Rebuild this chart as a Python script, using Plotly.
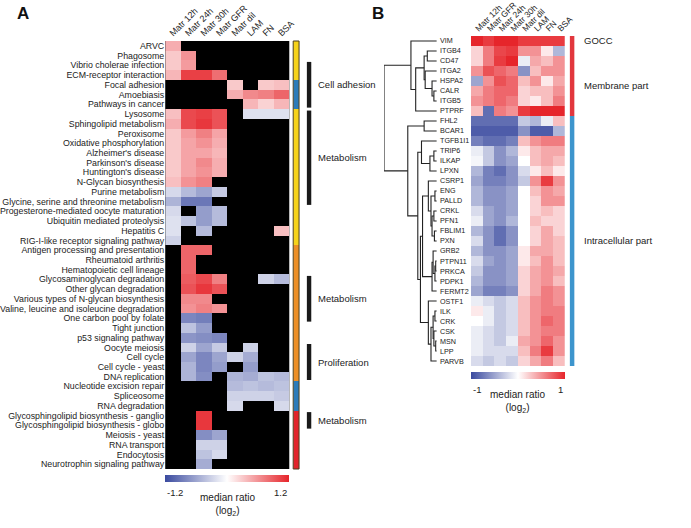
import plotly.graph_objects as go

W, H = 691, 528
N = None

# ---------------- Panel A data ----------------
a_cols = ["Matr 12h", "Matr 24h", "Matr 30h", "Matr GFR", "Matr dil", "LAM", "FN", "BSA"]
a_rows = ["ARVC", "Phagosome", "Vibrio cholerae infection", "ECM-receptor interaction",
          "Focal adhesion", "Amoebiasis", "Pathways in cancer", "Lysosome",
          "Sphingolipid metabolism", "Peroxisome", "Oxidative phosphorylation",
          "Alzheimer's disease", "Parkinson's disease", "Huntington's disease",
          "N-Glycan biosynthesis", "Purine metabolism",
          "Glycine, serine and threonine metabolism",
          "Progesterone-mediated oocyte maturation", "Ubiquitin mediated proteolysis",
          "Hepatitis C", "RIG-I-like receptor signaling pathway",
          "Antigen processing and presentation", "Rheumatoid arthritis",
          "Hematopoietic cell lineage", "Glycosaminoglycan degradation",
          "Other glycan degradation", "Various types of N-glycan biosynthesis",
          "Valine, leucine and isoleucine degradation", "One carbon pool by folate",
          "Tight junction", "p53 signaling pathway", "Oocyte meiosis", "Cell cycle",
          "Cell cycle - yeast", "DNA replication", "Nucleotide excision repair",
          "Spliceosome", "RNA degradation", "Glycosphingolipid biosynthesis - ganglio",
          "Glycosphingolipid biosynthesis - globo", "Meiosis - yeast", "RNA transport",
          "Endocytosis", "Neurotrophin signaling pathway"]
a_vals = [
    [0.45, N, N, N, N, N, N, N],
    [0.3, 0.6, N, N, N, N, N, N],
    [0.3, 0.55, N, N, N, N, N, N],
    [0.4, 1.05, 1.05, 0.8, N, N, N, N],
    [N, N, N, N, 0.3, N, 0.3, 0.35],
    [N, N, N, N, 0.45, 0.65, 0.7, 0.85],
    [N, N, N, N, N, 0.4, 0.25, 0.4],
    [0.35, 1.0, 1.05, 0.95, N, -0.2, -0.2, -0.2],
    [0.45, 1.0, 1.1, 0.95, N, N, N, N],
    [0.3, 0.55, 0.7, 0.5, N, N, N, N],
    [0.3, 0.5, 0.6, 0.45, N, N, N, N],
    [0.3, 0.5, 0.5, 0.4, N, N, N, N],
    [0.3, 0.5, 0.65, 0.45, N, N, N, N],
    [0.3, 0.5, 0.6, 0.45, N, N, N, N],
    [0.35, 0.6, 0.7, N, N, N, N, N],
    [-0.25, -0.45, -0.6, -0.35, N, N, N, N],
    [-0.5, -0.9, -0.9, N, N, N, N, N],
    [-0.25, N, -0.65, -0.45, N, N, N, N],
    [-0.2, -0.4, -0.65, -0.45, N, N, N, N],
    [-0.2, N, -0.45, N, N, N, N, 0.35],
    [-0.3, N, N, N, N, N, N, N],
    [N, 0.85, 0.85, N, N, N, N, N],
    [N, 0.85, N, N, N, N, N, N],
    [N, 0.85, N, N, N, N, N, N],
    [N, 0.9, 1.0, 0.7, N, N, -0.3, -0.45],
    [N, 0.95, 1.1, 0.95, N, N, N, N],
    [N, 0.65, 0.65, N, N, N, N, N],
    [N, 0.6, 0.7, 0.6, N, N, N, N],
    [N, -0.8, -0.85, N, N, N, N, N],
    [N, -0.4, -0.65, N, N, N, N, N],
    [N, -0.7, -0.75, -0.8, N, N, N, N],
    [N, -0.3, -0.6, -0.35, N, -0.3, N, N],
    [N, -0.6, -0.8, -0.6, -0.3, -0.55, N, N],
    [N, -0.5, -0.8, -0.65, N, -0.65, N, N],
    [N, -0.5, -0.75, N, -0.5, -0.55, -0.4, -0.45],
    [N, N, N, N, -0.45, -0.4, -0.45, -0.4],
    [N, N, N, N, -0.3, -0.3, -0.3, -0.35],
    [N, N, N, N, -0.25, N, N, -0.25],
    [N, N, 1.1, N, N, N, N, N],
    [N, N, 1.1, N, N, N, N, N],
    [N, N, -0.75, -0.6, N, N, N, N],
    [N, N, -0.3, -0.3, N, N, N, N],
    [N, N, -0.4, -0.25, N, N, N, N],
    [N, N, -0.55, N, N, N, N, N],
]
a_scale_ticks = ["-1.2", "1.2"]
# side colour groups (0 yellow, 1 blue, 2 orange, 3 red)
a_side = [0]*4 + [1]*3 + [0]*14 + [2]*14 + [1]*3 + [3]*6
a_side_colors = ["#f6d31a", "#2b7bba", "#ec8f26", "#e1252b"]
# annotated groups: label, first row, last row
a_groups = [
    ("Cell adhesion", "Vibrio cholerae infection", "Pathways in cancer"),
    ("Metabolism", "Lysosome", "Glycine, serine and threonine metabolism"),
    ("Metabolism", "Glycosaminoglycan degradation", "One carbon pool by folate"),
    ("Proliferation", "Oocyte meiosis", "DNA replication"),
    ("Metabolism", "Glycosphingolipid biosynthesis - ganglio", "Glycosphingolipid biosynthesis - globo"),
]

# ---------------- Panel B data ----------------
b_cols = ["Matr 12h", "Matr GFR", "Matr 24h", "Matr 30h", "Matr dil", "LAM", "FN", "BSA"]
b_genes = ["VIM", "ITGB4", "CD47", "ITGA2", "HSPA2", "CALR", "ITGB5", "PTPRF",
           "FHL2", "BCAR1", "TGFB1I1", "TRIP6", "ILKAP", "LPXN", "CSRP1", "ENG",
           "PALLD", "CRKL", "PFN1", "FBLIM1", "PXN", "GRB2", "PTPN11", "PRKCA",
           "PDPK1", "FERMT2", "OSTF1", "ILK", "CRK", "CSK", "MSN", "LPP", "PARVB"]
b_vals = [
    [1.0, 0.9, 1.0, 1.0, 0.9, 0.9, 0.9, 0.9],
    [0.2, 0.6, 0.85, 0.9, 0.5, 0.5, 0.1, -0.4],
    [0.2, 0.6, 0.9, 1.0, -0.1, 0.4, 0.3, 0.5],
    [0.5, 0.8, 0.7, 0.6, -0.6, 0.3, 0.5, 0.5],
    [-0.5, 0.5, 0.8, 0.7, 0.3, 0.5, 0.1, 0.4],
    [0.4, 0.6, 0.7, 0.7, 0.2, 0.3, 0.3, 0.5],
    [0.5, 0.6, 0.7, 0.6, 0.2, 0.1, 0.3, 0.6],
    [0.3, -0.8, 0.6, 0.5, 0.9, 1.0, 1.0, 1.0],
    [-0.8, -0.8, -0.8, -0.8, -0.3, -0.4, -0.1, 0.3],
    [-0.9, -0.9, -0.9, -0.9, -0.6, -0.9, -0.9, -0.4],
    [-0.7, -0.8, -0.8, -0.7, 0.3, 0.5, 0.6, 0.6],
    [-0.1, -0.3, -0.6, -0.4, 0.1, 0.3, 0.4, 0.4],
    [-0.05, -0.3, -0.6, -0.5, 0.0, 0.3, 0.4, 0.3],
    [-0.4, -0.7, -0.8, -0.6, -0.2, 0.1, 0.3, 0.1],
    [-0.5, -0.7, -0.7, -0.6, -0.3, 0.5, 0.9, 0.5],
    [-0.4, -0.6, -0.6, -0.5, 0.0, 0.3, 0.5, 0.4],
    [-0.4, -0.6, -0.6, -0.5, 0.0, 0.2, 0.5, 0.5],
    [-0.2, -0.5, -0.6, -0.5, 0.0, 0.2, 0.3, 0.2],
    [-0.1, -0.5, -0.6, -0.4, 0.0, 0.3, 0.2, 0.2],
    [-0.4, -0.6, -0.8, -0.6, 0.0, 0.2, 0.4, 0.2],
    [-0.2, -0.6, -0.8, -0.6, 0.0, 0.2, 0.4, 0.3],
    [-0.4, -0.6, -0.6, -0.5, 0.1, 0.4, 0.4, 0.3],
    [-0.2, -0.5, -0.6, -0.5, 0.1, 0.3, 0.5, 0.3],
    [-0.3, -0.6, -0.6, -0.5, 0.2, 0.4, 0.5, 0.4],
    [-0.4, -0.6, -0.6, -0.5, 0.2, 0.4, 0.5, 0.3],
    [-0.5, -0.7, -0.7, -0.6, 0.2, 0.4, 0.6, 0.5],
    [-0.1, -0.2, -0.3, -0.2, 0.3, 0.5, 0.6, 0.5],
    [0.1, -0.1, -0.3, -0.2, 0.3, 0.5, 0.6, 0.6],
    [0.0, -0.1, -0.3, -0.2, 0.3, 0.5, 0.7, 0.6],
    [-0.1, -0.2, -0.3, -0.2, 0.3, 0.5, 0.6, 0.6],
    [-0.1, -0.2, -0.3, -0.1, 0.4, 0.5, 0.7, 0.5],
    [-0.1, -0.2, -0.2, -0.2, 0.3, 0.6, 0.9, 0.5],
    [-0.2, -0.3, -0.2, -0.3, 0.2, 0.4, 0.6, 0.3],
]
b_scale_ticks = ["-1", "1"]
b_gocc = [0]*8 + [1]*25
b_gocc_names = ["Membrane part", "Intracellular part"]
b_gocc_colors = ["#e2373d", "#3d95cd"]
# dendrogram linkage: (node, left, right, height)
b_linkage = [
    ("D0", "CALR", "ITGB5", 0.055),
    ("D1", "HSPA2", "D0", 0.09),
    ("E", "ITGA2", "D1", 0.22),
    ("A", "ITGB4", "CD47", 0.18),
    ("F", "A", "E", 0.24),
    ("G", "F", "PTPRF", 0.40),
    ("H", "VIM", "G", 0.49),
    ("I", "FHL2", "BCAR1", 0.24),
    ("L", "TRIP6", "ILKAP", 0.055),
    ("M", "L", "LPXN", 0.13),
    ("Nn", "TGFB1I1", "M", 0.29),
    ("S2", "ENG", "PALLD", 0.035),
    ("S3a", "CRKL", "PFN1", 0.055),
    ("S3b", "FBLIM1", "PXN", 0.045),
    ("S3", "S3a", "S3b", 0.09),
    ("S1", "S2", "S3", 0.11),
    ("S", "CSRP1", "S1", 0.16),
    ("T3", "PTPN11", "PRKCA", 0.02),
    ("T2", "T3", "PDPK1", 0.035),
    ("T1", "GRB2", "T2", 0.07),
    ("T", "T1", "FERMT2", 0.09),
    ("Q", "S", "T", 0.27),
    ("R3", "ILK", "CRK", 0.035),
    ("R4", "MSN", "LPP", 0.02),
    ("R5", "CSK", "R4", 0.055),
    ("R2", "R3", "R5", 0.07),
    ("R1", "R2", "PARVB", 0.11),
    ("R", "OSTF1", "R1", 0.16),
    ("P", "Q", "R", 0.31),
    ("J", "Nn", "P", 0.36),
    ("K", "I", "J", 0.55),
    ("root", "H", "K", 1.0),
]

# ---------------- helpers ----------------
def px(x):
    return x / W

def py(y):
    return 1 - y / H

FONT = "Liberation Sans, Arial, sans-serif"
TXT = "#222222"
cscale = [[0, "#3a4a9f"], [0.5, "#ffffff"], [1, "#e6252b"]]

fig = go.Figure()

a_idx = list(range(len(a_rows)))
b_idx = list(range(len(b_genes)))

fig.add_trace(go.Heatmap(z=a_vals, x=a_cols, y=a_idx, coloraxis="coloraxis",
                         xaxis="x", yaxis="y", hoverongaps=False))
n_side = len(a_side_colors)
side_scale = []
for i, c in enumerate(a_side_colors):
    side_scale += [[i / n_side, c], [(i + 1) / n_side, c]]
fig.add_trace(go.Heatmap(z=[[v] for v in a_side], x=["g"], y=a_idx, colorscale=side_scale,
                         zmin=-0.5, zmax=n_side - 0.5, showscale=False,
                         xaxis="x4", yaxis="y"))

fig.add_trace(go.Heatmap(z=b_vals, x=b_cols, y=b_idx, coloraxis="coloraxis2",
                         xaxis="x2", yaxis="y2"))
g_scale = [[0, b_gocc_colors[0]], [0.5, b_gocc_colors[0]], [0.5, b_gocc_colors[1]], [1, b_gocc_colors[1]]]
fig.add_trace(go.Heatmap(z=[[v] for v in b_gocc], x=["g"], y=b_idx, colorscale=g_scale,
                         zmin=-0.5, zmax=1.5, showscale=False, xaxis="x6", yaxis="y2"))

pos = {g: (i, 0.0) for i, g in enumerate(b_genes)}
dx, dy = [], []
for name, l, r, h in b_linkage:
    yl, hl = pos[l]
    yr, hr = pos[r]
    dx += [hl, h, h, hr, None]
    dy += [yl, yl, yr, yr, None]
    pos[name] = ((yl + yr) / 2, h)
fig.add_trace(go.Scatter(x=dx, y=dy, mode="lines", line=dict(color="#222", width=1.1),
                         xaxis="x3", yaxis="y2", hoverinfo="skip", showlegend=False))

# ---------------- layout ----------------
A_X0, A_X1, A_Y0, A_Y1 = 163, 290, 41, 469
B_X0, B_X1, B_Y0, B_Y1 = 476, 572, 36, 366
A_CB, B_CB = 475, 372

axis_common = dict(showgrid=False, zeroline=False, showline=False, ticks="")
fig.update_layout(
    width=W, height=H, margin=dict(l=0, r=0, t=0, b=0),
    paper_bgcolor="white", plot_bgcolor="white",
    font=dict(family=FONT, color=TXT),
    showlegend=False,
    xaxis=dict(domain=[px(A_X0), px(A_X1)], side="top", tickangle=-45, ticklabelshift=-3,
               tickfont=dict(size=9, color=TXT), anchor="y", **axis_common),
    yaxis=dict(domain=[py(A_Y1), py(A_Y0)], autorange="reversed", tickmode="array",
               tickvals=a_idx, ticktext=a_rows, tickfont=dict(size=8.8, color=TXT),
               anchor="x", **axis_common),
    xaxis4=dict(domain=[px(294), px(300)], anchor="y", showticklabels=False, **axis_common),
    xaxis2=dict(domain=[px(B_X0), px(B_X1)], side="top", tickangle=-45, ticklabelshift=-1,
                tickfont=dict(size=8.5, color=TXT), anchor="y2", **axis_common),
    yaxis2=dict(domain=[py(B_Y1), py(B_Y0)], range=[len(b_genes) - 0.5, -0.5],
                showticklabels=False, anchor="x2", **axis_common),
    xaxis3=dict(domain=[px(387), px(441)], range=[1.0, 0.0], anchor="y2",
                showticklabels=False, **axis_common),
    xaxis6=dict(domain=[px(577), px(582)], anchor="y2", showticklabels=False, **axis_common),
    coloraxis=dict(colorscale=cscale, cmin=float(a_scale_ticks[0]), cmax=float(a_scale_ticks[1]),
                   colorbar=dict(orientation="h", x=px((A_X0 + A_X1) / 2), xanchor="center",
                                 y=py(A_CB), yanchor="top", ypad=0, xpad=0,
                                 len=(A_X1 - A_X0) / W, thickness=7, outlinewidth=0,
                                 showticklabels=False, ticks="")),
    coloraxis2=dict(colorscale=cscale, cmin=float(b_scale_ticks[0]), cmax=float(b_scale_ticks[1]),
                    colorbar=dict(orientation="h", x=px((B_X0 + B_X1) / 2), xanchor="center",
                                  y=py(B_CB), yanchor="top", ypad=0, xpad=0,
                                  len=(B_X1 - B_X0) / W, thickness=7, outlinewidth=0,
                                  showticklabels=False, ticks="")),
)

shapes = []
shapes.append(dict(type="rect", xref="x domain", yref="y domain", x0=0, x1=1, y0=0, y1=1,
                   fillcolor="black", line=dict(width=0), layer="below"))
shapes.append(dict(type="rect", xref="x4 domain", yref="y domain", x0=0, x1=1, y0=0, y1=1,
                   line=dict(color="#4a3f1c", width=1)))
annotations = []
for label, first, last in a_groups:
    i0, i1 = a_rows.index(first), a_rows.index(last)
    shapes.append(dict(type="rect", xref="paper", yref="y", x0=px(308), x1=px(312.5),
                       y0=i0 - 0.35, y1=i1 + 0.35, fillcolor="#1a1a1a", line=dict(width=0)))
    annotations.append(dict(text=label, xref="paper", yref="y", x=px(317), y=(i0 + i1) / 2,
                            xanchor="left", yanchor="middle", showarrow=False,
                            font=dict(size=9.5, color=TXT)))

for i, g in enumerate(b_genes):
    annotations.append(dict(text=g, xref="x3", yref="y2", x=0, y=i, xanchor="left",
                            yanchor="middle", xshift=1, showarrow=False,
                            font=dict(size=7.2, color=TXT)))
annotations.append(dict(text="GOCC", xref="paper", yref="y2", x=px(590), y=0,
                        xanchor="left", yanchor="middle", showarrow=False,
                        font=dict(size=9.5, color=TXT)))
for k, name in enumerate(b_gocc_names):
    members = [i for i, v in enumerate(b_gocc) if v == k]
    annotations.append(dict(text=name, xref="paper", yref="y2", x=px(590),
                            y=(members[0] + members[-1]) / 2 + (1 if k == 0 else 0),
                            xanchor="left", yanchor="middle", showarrow=False,
                            font=dict(size=9.5, color=TXT)))

# colorbar end labels and titles
for (x0, x1, cb, ticks) in [(A_X0, A_X1, A_CB, a_scale_ticks), (B_X0, B_X1, B_CB, b_scale_ticks)]:
    annotations.append(dict(text=ticks[0], xref="paper", yref="paper", x=px(x0),
                            y=py(cb + 10), xanchor="left", yanchor="top",
                            showarrow=False, font=dict(size=9.5, color=TXT)))
    annotations.append(dict(text=ticks[1], xref="paper", yref="paper", x=px(x1),
                            y=py(cb + 10), xanchor="right", yanchor="top", showarrow=False,
                            font=dict(size=9.5, color=TXT)))
    annotations.append(dict(text="median ratio<br>(log<sub>2</sub>)", xref="paper",
                            yref="paper", x=px((x0 + x1) / 2), y=py(cb + 15),
                            xanchor="center", yanchor="top", showarrow=False,
                            font=dict(size=10, color=TXT)))
annotations.append(dict(text="<b>A</b>", xref="paper", yref="paper", x=px(9), y=py(2),
                        xanchor="left", yanchor="top", showarrow=False,
                        font=dict(size=17, color="#111")))
annotations.append(dict(text="<b>B</b>", xref="paper", yref="paper", x=px(373), y=py(2),
                        xanchor="left", yanchor="top", showarrow=False,
                        font=dict(size=17, color="#111")))

fig.update_layout(shapes=shapes, annotations=annotations)
# remove the browser's default page margin so the figure sits at the window origin
fig.write_html("out.html", config={"displayModeBar": False},
               post_script="document.body.style.margin='0px';")
